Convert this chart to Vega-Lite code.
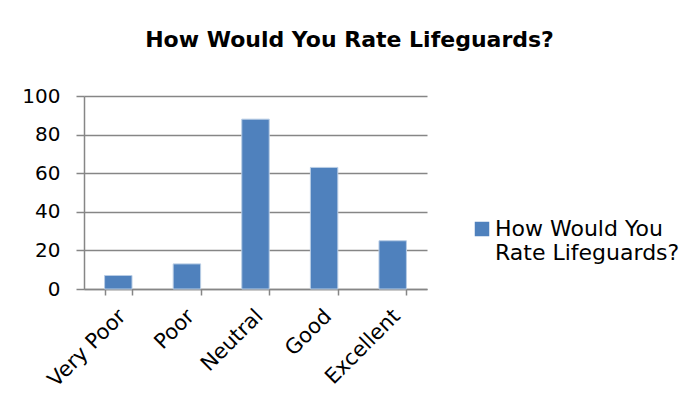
{
  "$schema": "https://vega.github.io/schema/vega-lite/v6.json",
  "autosize": "none",
  "width": 343,
  "height": 193,
  "padding": {"left": 84, "top": 96, "right": 260, "bottom": 130},
  "background": "white",
  "title": {
    "text": "How Would You Rate Lifeguards?",
    "font": "DejaVu Sans",
    "fontSize": 22,
    "fontWeight": "bold",
    "color": "#000000",
    "anchor": "middle",
    "frame": "group",
    "dx": 94,
    "offset": 34
  },
  "data": {
    "values": [
      {"rating": "Very Poor", "count": 7},
      {"rating": "Poor", "count": 13},
      {"rating": "Neutral", "count": 88},
      {"rating": "Good", "count": 63},
      {"rating": "Excellent", "count": 25}
    ]
  },
  "mark": {"type": "bar", "stroke": "#b9cde5", "strokeWidth": 1},
  "encoding": {
    "x": {
      "field": "rating",
      "type": "nominal",
      "sort": null,
      "title": null,
      "scale": {"paddingInner": 0.6, "paddingOuter": 0.3},
      "axis": {
        "labelAngle": -45,
        "labelFont": "DejaVu Sans",
        "labelFontSize": 21,
        "labelColor": "#000000",
        "labelPadding": 10,
        "labelOffset": -4,
        "tickBand": "extent",
        "tickSize": 6,
        "tickColor": "#868686",
        "domainColor": "#868686",
        "domainWidth": 1.5,
        "tickWidth": 1.5,
        "grid": false
      }
    },
    "y": {
      "field": "count",
      "type": "quantitative",
      "title": null,
      "scale": {"domain": [0, 100], "nice": false},
      "axis": {
        "values": [0, 20, 40, 60, 80, 100],
        "labelFont": "DejaVu Sans",
        "labelFontSize": 20,
        "labelColor": "#000000",
        "labelPadding": 16,
        "tickSize": 8,
        "tickColor": "#868686",
        "tickWidth": 1.5,
        "domainColor": "#868686",
        "domainWidth": 1.5,
        "gridColor": "#868686",
        "gridWidth": 1.5
      }
    },
    "color": {
      "datum": "How Would You Rate Lifeguards?",
      "scale": {"range": ["#4F81BD"]},
      "legend": {
        "title": null,
        "orient": "none",
        "legendX": 387,
        "legendY": 122,
        "symbolType": "square",
        "symbolSize": 210,
        "symbolStrokeWidth": 0,
        "labelFont": "DejaVu Sans",
        "labelFontSize": 22,
        "labelColor": "#000000",
        "labelExpr": "['How Would You', 'Rate Lifeguards?']",
        "labelLimit": 300,
        "labelBaseline": "middle",
        "labelOffset": 2
      }
    }
  },
  "config": {"view": {"stroke": null}}
}
